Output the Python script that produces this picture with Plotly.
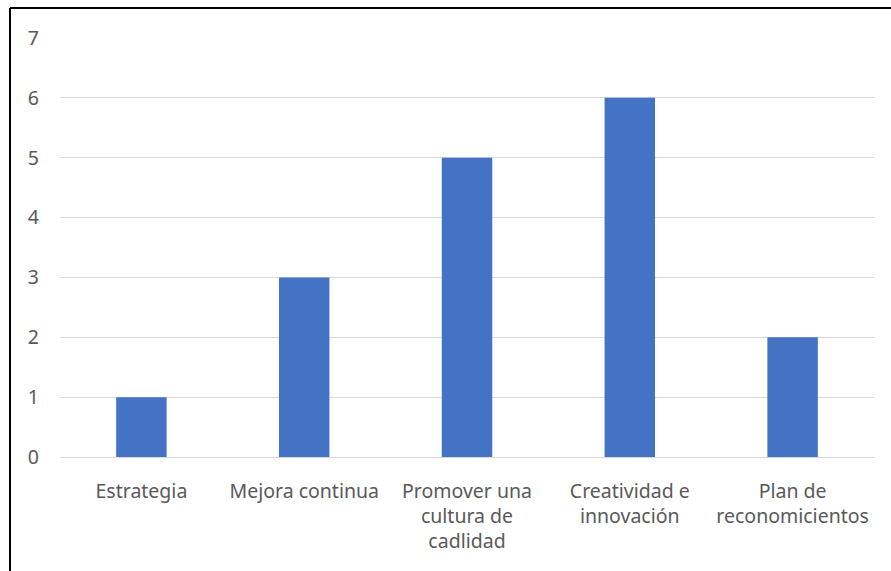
import plotly.graph_objects as go

categories = ["Estrategia", "Mejora continua", "Promover una<br>cultura de<br>cadlidad",
              "Creatividad e<br>innovación", "Plan de<br>reconomicientos"]
values = [1, 3, 5, 6, 2]
y_ticks = [0, 1, 2, 3, 4, 5, 6, 7]

W, H = 891, 571
L, R, T, B = 60, 17, 38, 114
pw, ph = W - L - R, H - T - B

def px_x(x):
    return (x - L) / pw

def px_y(y):
    return 1 - (y - T) / ph

font_color = "#595959"
font_family = "Noto Sans, sans-serif"
font_size = 19.5

fig = go.Figure(go.Bar(
    x=categories, y=values, marker=dict(color="#4472C4", line=dict(width=0)),
    hoverinfo="x+y",
))

fig.update_layout(
    width=W, height=H,
    margin=dict(l=L, r=R, t=T, b=B),
    paper_bgcolor="white", plot_bgcolor="white",
    bargap=0.69,
    showlegend=False,
    font=dict(family=font_family, size=font_size, color=font_color),
    xaxis=dict(showgrid=False, showline=False, ticks="", ticklabelstandoff=20,
               tickfont=dict(size=font_size, color=font_color)),
    yaxis=dict(range=[0, 7], tickvals=y_ticks, showgrid=True, gridcolor="#d9d9d9",
               gridwidth=1, zeroline=True, zerolinecolor="#d9d9d9", zerolinewidth=1,
               showline=False, ticks="", ticklabelstandoff=20,
               tickfont=dict(size=font_size, color=font_color)),
    shapes=[
        dict(type="line", xref="paper", yref="paper", x0=px_x(10), x1=px_x(10),
             y0=px_y(8), y1=px_y(H + 5), line=dict(color="black", width=2)),
        dict(type="line", xref="paper", yref="paper", x0=px_x(10), x1=px_x(W + 5),
             y0=px_y(8), y1=px_y(8), line=dict(color="black", width=2)),
    ],
)

fig.write_html("out.html")
